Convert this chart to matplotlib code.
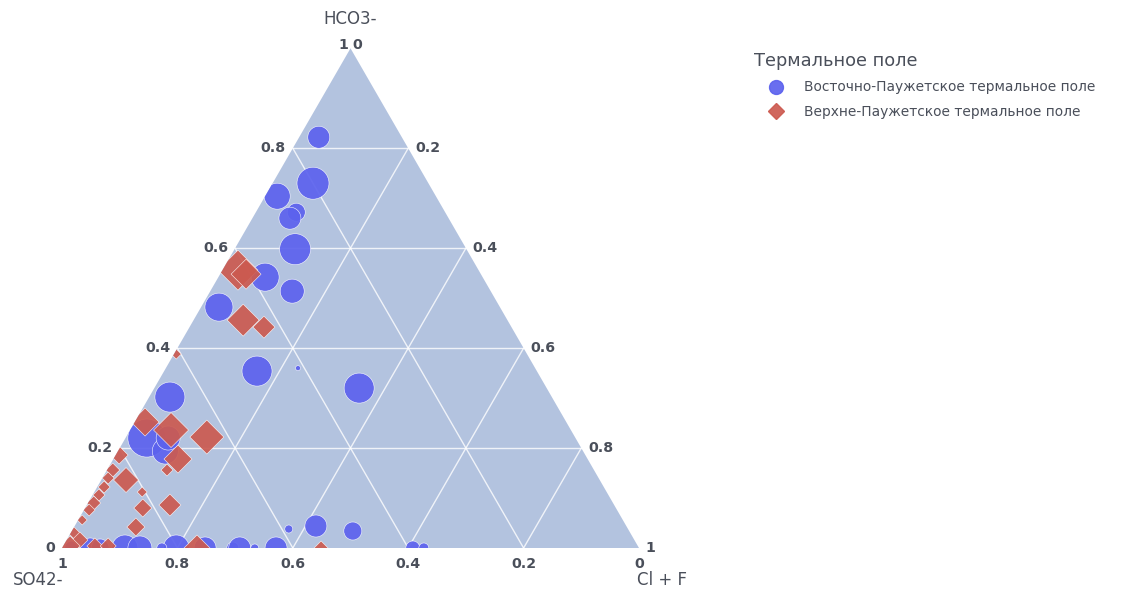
import numpy as np
import matplotlib
matplotlib.use('Agg')
import matplotlib.pyplot as plt
from matplotlib.patches import Polygon
from matplotlib.lines import Line2D

# HCO3- and Cl+F fractions (SO42- is the remainder), marker size in px
east_hco3 = [0.822, 0.730, 0.704, 0.672, 0.660, 0.598, 0.542, 0.514, 0.482, 0.354,
             0.360, 0.320, 0.302, 0.220, 0.194, 0.220, 0.038, 0.044, 0.034,
             0.0, 0.0, 0.0, 0.0, 0.0, 0.0, 0.0, 0.0, 0.0, 0.0, 0.0, 0.0, 0.0, 0.0]
east_clf = [0.034, 0.070, 0.021, 0.070, 0.065, 0.105, 0.081, 0.142, 0.031, 0.161,
            0.229, 0.355, 0.036, 0.037, 0.082, 0.074, 0.374, 0.418, 0.487,
            0.608, 0.627, 0.109, 0.135, 0.198, 0.248, 0.296, 0.308, 0.334, 0.371,
            0.049, 0.066, 0.017, 0.173]
east_size = [22, 32, 26, 18, 22, 31, 28, 24, 28, 30,
             5, 30, 30, 38, 26, 24, 8, 22, 18,
             14, 10, 26, 24, 26, 22, 12, 22, 8, 22,
             20, 18, 14, 10]

upper_hco3 = [0.556, 0.548, 0.456, 0.442, 0.388, 0.222, 0.236, 0.252, 0.178, 0.156, 0.136,
              0.112, 0.086, 0.042, 0.080, 0.186, 0.156, 0.140, 0.122, 0.106, 0.090,
              0.076, 0.056, 0.030, 0.016, 0.004, 0.004, 0.004, 0.0, 0.0]
upper_clf = [0.027, 0.045, 0.086, 0.129, 0.004, 0.140, 0.071, 0.018, 0.112, 0.104, 0.043,
             0.083, 0.144, 0.107, 0.100, 0.006, 0.010, 0.010, 0.012, 0.011, 0.010,
             0.009, 0.007, 0.006, 0.023, 0.012, 0.055, 0.078, 0.234, 0.449]
upper_size = [40, 30, 32, 22, 10, 34, 35, 28, 28, 12, 25,
              10, 22, 18, 18, 18, 14, 12, 12, 12, 14,
              12, 10, 12, 16, 20, 16, 16, 26, 14]

ticks = [0, 0.2, 0.4, 0.6, 0.8, 1]
legend_title = "Термальное поле"
series_names = ["Восточно-Паужетское термальное поле", "Верхне-Паужетское термальное поле"]

H = np.sqrt(3) / 2
BG = "#b3c3df"
TXT = "#4a4f5a"
BLUE = "#5c62ee"
RED = "#cc5a50"


def to_xy(a, c):
    a = np.asarray(a)
    c = np.asarray(c)
    return c + a / 2, a * H


fig = plt.figure(figsize=(11.31, 5.89), dpi=100)
W, Hpx = 1131, 589
ax = fig.add_axes([62 / W, (Hpx - 548) / Hpx, 577 / W, 499.7 / Hpx])
ax.set_xlim(0, 1)
ax.set_ylim(0, H)
ax.axis('off')

tri = Polygon([[0, 0], [1, 0], [0.5, H]], closed=True, facecolor=BG, edgecolor='none', zorder=0)
ax.add_patch(tri)

# grid
for t in [0.2, 0.4, 0.6, 0.8]:
    # constant HCO3
    x0, y0 = to_xy(t, 0)
    x1, y1 = to_xy(t, 1 - t)
    ax.plot([x0, x1], [y0, y1], color='white', lw=1, alpha=0.8, zorder=1)
    # constant Cl+F
    x0, y0 = to_xy(0, t)
    x1, y1 = to_xy(1 - t, t)
    ax.plot([x0, x1], [y0, y1], color='white', lw=1, alpha=0.8, zorder=1)
    # constant SO4
    x0, y0 = to_xy(0, 1 - t)
    x1, y1 = to_xy(1 - t, 0)
    ax.plot([x0, x1], [y0, y1], color='white', lw=1, alpha=0.8, zorder=1)

# points
def px2pt(d):
    return (np.asarray(d) * 0.72) ** 2

ex, ey = to_xy(east_hco3, east_clf)
sc1 = ax.scatter(ex, ey, s=px2pt(east_size), marker='o', color=BLUE, alpha=0.92,
                 edgecolors='white', linewidths=0.4, zorder=3)
ux, uy = to_xy(upper_hco3, upper_clf)
sc2 = ax.scatter(ux, uy, s=px2pt(np.asarray(upper_size) / 1.414), marker='D', color=RED,
                 alpha=0.92, edgecolors='white', linewidths=0.4, zorder=3)
sc1.set_clip_path(tri)
sc2.set_clip_path(tri)

# tick labels
tk = dict(fontsize=10.2, color=TXT, fontweight='bold', clip_on=False)
for t in ticks:
    lab = "0" if t == 0 else ("1" if t == 1 else f"{t:g}")
    # left side: HCO3
    x, y = to_xy(t, 0)
    if t == 1:
        ax.text(x - 0.003, y + 0.006, lab, ha='right', va='center', **tk)
    else:
        ax.text(x - 0.012, y, lab, ha='right', va='center', **tk)
    # right side: Cl+F
    x, y = to_xy(1 - t, t)
    if t == 0:
        ax.text(x + 0.003, y + 0.006, lab, ha='left', va='center', **tk)
    else:
        ax.text(x + 0.012, y, lab, ha='left', va='center', **tk)
    # bottom: SO4
    x, y = to_xy(0, 1 - t)
    ax.text(x, y - 0.015, lab, ha='center', va='top', **tk)

tt = dict(fontsize=12, color=TXT, clip_on=False)
ax.text(0.5, H + 0.036, "HCO3-", ha='center', va='bottom', **tt)
ax.text(-0.042, -0.056, "SO42-", ha='center', va='center', **tt)
ax.text(1.04, -0.056, "Cl + F", ha='center', va='center', **tt)

handles = [
    Line2D([], [], marker='o', ls='none', color=BLUE, markersize=10, alpha=0.92),
    Line2D([], [], marker='D', ls='none', color=RED, markersize=8, alpha=0.92),
]
leg = fig.legend(handles, series_names, title=legend_title, loc='upper left',
                 bbox_to_anchor=(754 / W, 1 - 52 / Hpx), frameon=False,
                 fontsize=9.9, title_fontsize=12.8, alignment='left',
                 handlelength=3.2, handletextpad=0.45, labelspacing=0.75,
                 borderpad=0, borderaxespad=0)
for txt in leg.get_texts():
    txt.set_color(TXT)
leg.get_title().set_color(TXT)

fig.savefig("out.png", dpi=100)
